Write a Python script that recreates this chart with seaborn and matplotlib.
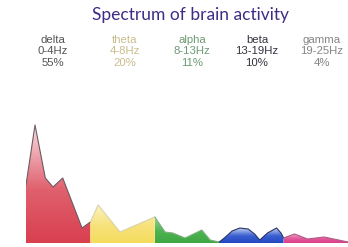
import numpy as np
import matplotlib
matplotlib.use("Agg")
import matplotlib.pyplot as plt
from matplotlib.colors import LinearSegmentedColormap
import seaborn as sns
import pandas as pd

# ---- data ----
band_names = ["delta", "theta", "alpha", "beta", "gamma"]
band_ranges = ["0-4Hz", "4-8Hz", "8-13Hz", "13-19Hz", "19-25Hz"]
band_shares = ["55%", "20%", "11%", "10%", "4%"]
# position along the axis (each band takes one unit)
band_pos = [0.00, 0.14, 0.30, 0.42, 0.57, 0.87, 1.00,
            1.12, 1.46, 1.82, 2.00,
            2.16, 2.28, 2.47, 2.73, 2.86, 3.00,
            3.08, 3.20, 3.32, 3.45, 3.55, 3.63, 3.75, 3.89, 3.96, 4.00,
            4.17, 4.37, 4.63, 5.00]
power = [58, 118, 65, 56, 65, 15, 21,
         38, 11, 21, 26,
         11, 10, 5, 13, 3, 1,
         5, 12, 15, 14, 9, 3, 10, 15, 10, 5,
         9, 4, 6, 1]

band_bottom = ["#d8404f", "#f5dc5e", "#3fa845", "#2447c2", "#dc3d8a"]
band_mid = ["#e0606e", "#f7e27a", "#4cb552", "#3a5fd0", "#e25a9a"]
band_top = ["#f9dde3", "#fbf3c4", "#9ad69a", "#cfdcf5", "#f2b0cf"]
label_colors = ["#555555", "#c9bc8c", "#6f9a74", "#33333f", "#858585"]
edge_colors = ["#6e5a60", "#d8d2a8", "#7fae80", "#2b3566", "#b05a85"]

df = pd.DataFrame({"pos": band_pos, "power": power})

W, H = 348, 247
fig = plt.figure(figsize=(W / 100, H / 100), dpi=100)
sns.set_style("white")
ax = fig.add_axes([26 / W, 4 / H, 322 / W, 243 / H])
ax.set_xlim(0, 5)
ax.set_ylim(0, 243)
ax.axis("off")

x = np.array(band_pos, dtype=float)
y = np.array(power, dtype=float)
for i in range(5):
    m = (x >= i - 1e-9) & (x <= i + 1 + 1e-9)
    xs, ys = x[m], y[m]
    poly = ax.fill_between(xs, 0, ys, color=band_bottom[i], lw=0)
    cmap = LinearSegmentedColormap.from_list(
        "g", [(0, band_bottom[i]), (0.45, band_mid[i]), (1, band_top[i])])
    grad = np.linspace(0, 1, 100).reshape(-1, 1)
    im = ax.imshow(grad, extent=[xs.min(), xs.max(), 0, ys.max()], origin="lower",
                   aspect="auto", cmap=cmap, zorder=2)
    path = poly.get_paths()[0]
    im.set_clip_path(path, transform=ax.transData)
    poly.set_visible(False)
    sns.lineplot(x=xs, y=ys, ax=ax, color=edge_colors[i], lw=0.8, zorder=3,
                 sort=False, estimator=None)

ax.set_xlim(0, 5)
ax.set_ylim(0, 243)

fig.text(190 / W, 1 - 15 / H, "Spectrum of brain activity", ha="center", va="center",
         fontsize=12.5, color="#3f2c84", family="Lato")

centers = [53, 125, 192, 257, 322]
for i in range(5):
    for j, txt in enumerate([band_names[i], band_ranges[i], band_shares[i]]):
        fig.text(centers[i] / W, 1 - (40 + 11.5 * j) / H, txt, ha="center", va="center",
                 fontsize=8.2, color=label_colors[i], family="Liberation Sans")

fig.savefig("out.png", dpi=100, facecolor="white")
